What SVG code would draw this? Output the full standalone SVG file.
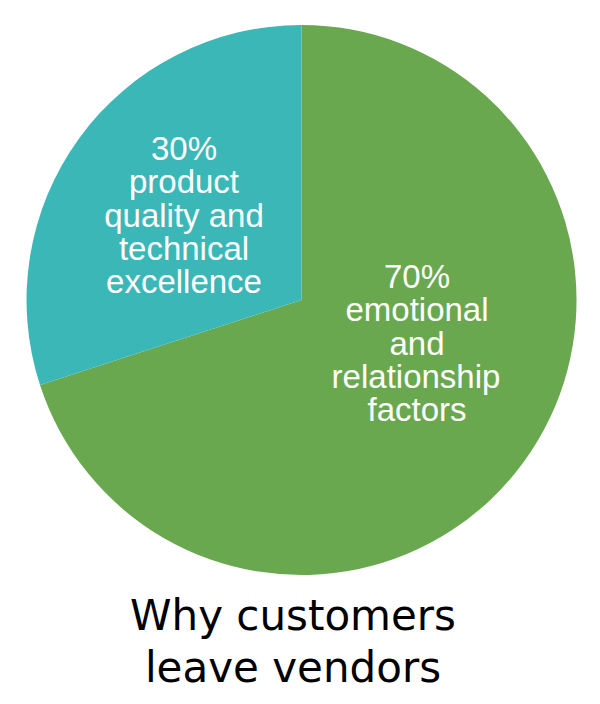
<svg xmlns="http://www.w3.org/2000/svg" width="600" height="704" viewBox="0 0 600 704">
<style>
.lbl{font-family:"Liberation Sans",Arial,sans-serif;font-size:33px;fill:#ffffff;text-anchor:middle}
.title{font-family:"DejaVu Sans",Verdana,sans-serif;font-size:42px;fill:#000000;text-anchor:middle}
</style>
<rect width="600" height="704" fill="#ffffff"/>
<g id="slice-70">
<path d="M301.5,300 L301.5,25 A275,275 0 1 1 40,385 Z" fill="#6AA84F"/>
<text class="lbl" x="417" y="288">70%</text>
<text class="lbl" x="417" y="321">emotional</text>
<text class="lbl" x="417" y="355">and</text>
<text class="lbl" x="416" y="388">relationship</text>
<text class="lbl" x="417" y="421">factors</text>
</g>
<g id="slice-30">
<path d="M301.5,300 L40,385 A275,275 0 0 1 301.5,25 Z" fill="#3CB7B7"/>
<text class="lbl" x="184" y="160">30%</text>
<text class="lbl" x="184" y="193">product</text>
<text class="lbl" x="184" y="227">quality and</text>
<text class="lbl" x="184" y="260">technical</text>
<text class="lbl" x="184" y="293">excellence</text>
</g>
<g id="connectors"></g>
<g id="title">
<text class="title" x="293" y="630">Why customers</text>
<text class="title" x="293" y="682">leave vendors</text>
</g>
</svg>
